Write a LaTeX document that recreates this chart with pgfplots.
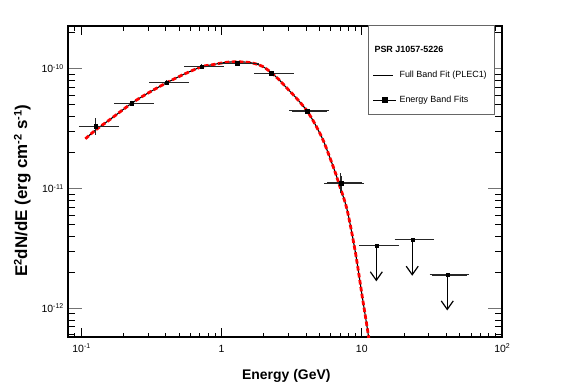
\documentclass[border=0pt]{standalone}
\usepackage{pgfplots}
\pgfplotsset{compat=1.18}
\usepackage{pgfplotstable}
\usepackage{fontspec}
\setmainfont{Liberation Sans}
\usetikzlibrary{arrows.meta}
\newcommand{\tsup}[1]{\raisebox{0.62ex}{\fontsize{7}{8}\selectfont #1}}
\newcommand{\lsup}[1]{\raisebox{0.62ex}{\fontsize{11}{12}\selectfont #1}}

\pgfplotstableread{
E F
0.107 2.6e-11
0.1275 3.1e-11
0.158 3.72e-11
0.229 5.15e-11
0.305 6.34e-11
0.407 7.64e-11
0.543 9.02e-11
0.724 1.04e-10
0.851 1.076e-10
0.979 1.11e-10
1.122 1.135e-10
1.288 1.14e-10
1.479 1.135e-10
1.69 1.11e-10
1.972 1.041e-10
2.29 9.16e-11
2.57 8.09e-11
2.93 6.87e-11
3.47 5.57e-11
4.07 4.44e-11
4.68 3.39e-11
5.35 2.47e-11
6.31 1.48e-11
6.85 1.11e-11
7.86 6.64e-12
9.02 2.90e-12
10.07 1.26e-12
11.12 6.04e-13
11.6 4.0e-13
}\fitcurve

\pgfplotstableread{
E F exm exp fm fp
0.127 3.3e-11 0.027 0.0508 0.35e-11 0.38e-11
0.229 5.15e-11 0.0512 0.0872 0 0
0.407 7.64e-11 0.0908 0.1553 0 0
0.724 1.04e-10 0.1617 0.276 0 0
1.29 1.11e-10 0.29 0.488 0 0
2.26 9.16e-11 0.482 0.902 0 0
4.07 4.44e-11 0.908 1.553 0 0
7.11 1.11e-11 1.487 2.89 0.15e-11 0.17e-11
}\bandfits

\pgfplotstableread{
E F exm exp
12.7 3.33e-12 2.7 5.08
22.9 3.76e-12 5.12 8.72
40.7 1.9e-12 9.08 15.53
}\upperlimits

\begin{document}
\begin{tikzpicture}[x=1bp,y=1bp]
\path[use as bounding box] (0,0) rectangle (567,384);
\begin{axis}[
  at={(68bp,47bp)}, anchor=south west,
  scale only axis, width=434bp, height=311bp,
  xmode=log, ymode=log,
  xmin=0.0804, xmax=100, ymin=5.76e-13, ymax=2.27e-10,
  axis line style={line width=1.1bp},
  tick align=inside, tick pos=both,
  tick style={black, line width=0.8bp},
  major tick length=9bp, minor tick length=4.5bp,
  major y tick style={black!55, line width=1.2bp, /pgfplots/major tick length=14bp},
  minor y tick style={/pgfplots/minor tick length=7bp},
  xtick={0.1,1,10,100},
  xticklabels={10\tsup{-1},1,10,10\tsup{2}},
  minor xtick={0.09,0.2,0.3,0.4,0.5,0.6,0.7,0.8,0.9,2,3,4,5,6,7,8,9,20,30,40,50,60,70,80,90},
  ytick={1e-12,1e-11,1e-10},
  yticklabels={10\tsup{-12},10\tsup{-11},10\tsup{-10}},
  minor ytick={6e-13,7e-13,8e-13,9e-13,2e-12,3e-12,4e-12,5e-12,6e-12,7e-12,8e-12,9e-12,2e-11,3e-11,4e-11,5e-11,6e-11,7e-11,8e-11,9e-11,2e-10},
  ticklabel style={font=\fontsize{10.5}{12}\selectfont},
  xticklabel style={anchor=base, yshift=-15bp, inner sep=0pt},
  yticklabel style={anchor=east, xshift=-4.5bp, inner sep=0pt},
  xlabel={\bfseries Energy (GeV)},
  ylabel={\bfseries E\lsup{2}dN/dE (erg cm\lsup{-2} s\lsup{-1})},
  xlabel style={font=\fontsize{14}{16}\selectfont, at={(axis description cs:0.503,0)}, anchor=base, yshift=-42bp, inner sep=0pt},
  ylabel style={font=\fontsize{17}{19}\selectfont, at={(axis description cs:-0.094,0.47)}, anchor=base, inner sep=0pt},
  legend style={at={(0.6912,1.003)}, anchor=north west, draw=black!60, line width=0.7bp, fill=white,
    font=\fontsize{9}{11}\selectfont, inner xsep=4.5bp, inner ysep=8bp, row sep=13bp, column sep=1bp},
  legend cell align=left,
]
\addlegendimage{empty legend}
\addlegendentry{\hspace*{-25bp}\rule{0pt}{17bp}\bfseries PSR J1057-5226}

\addplot[black, line width=1.1bp, smooth,
  legend image code/.code={\draw[black, line width=0.7bp] (0bp,0bp) -- (20bp,0bp);}] table[x=E,y=F] {\fitcurve};
\addlegendentry{Full Band Fit (PLEC1)\hspace*{1.5bp}}
\addplot[red, line width=2.8bp, dash pattern=on 4.5bp off 2.5bp, smooth, forget plot] table[x=E,y=F] {\fitcurve};

\addplot[black, only marks, mark=square*, mark size=1.8bp,
  legend image code/.code={\draw[black, line width=0.7bp] (0bp,0bp) -- (23bp,0bp); \fill[black] (9.3bp,-2.2bp) rectangle (13.7bp,2.2bp);},
  error bars/.cd, x dir=both, x explicit, y dir=both, y explicit,
  error bar style={black!85, line width=1.2bp},
  error mark options={black!85, line width=1bp, mark size=2.3bp},
  ] table[x=E, y=F, x error minus=exm, x error plus=exp, y error minus=fm, y error plus=fp] {\bandfits};
\addlegendentry{Energy Band Fits}

\addplot[black, only marks, mark=square*, mark size=1.5bp, forget plot,
  error bars/.cd, x dir=both, x explicit,
  error bar style={black!85, line width=1.2bp},
  error mark options={black!85, line width=1bp, mark size=2.3bp},
  ] table[x=E, y=F, x error minus=exm, x error plus=exp] {\upperlimits};

\addplot[black, line width=1.2bp, forget plot, -{Straight Barb[length=8.5bp,width=12bp,line width=1.2bp]}] coordinates {(12.7,3.33e-12) (12.7,1.68e-12)};
\addplot[black, line width=1.2bp, forget plot, -{Straight Barb[length=8.5bp,width=12bp,line width=1.2bp]}] coordinates {(22.9,3.76e-12) (22.9,1.87e-12)};
\addplot[black, line width=1.2bp, forget plot, -{Straight Barb[length=8.5bp,width=12bp,line width=1.2bp]}] coordinates {(40.7,1.9e-12) (40.7,9.6e-13)};
\end{axis}
\end{tikzpicture}
\end{document}
